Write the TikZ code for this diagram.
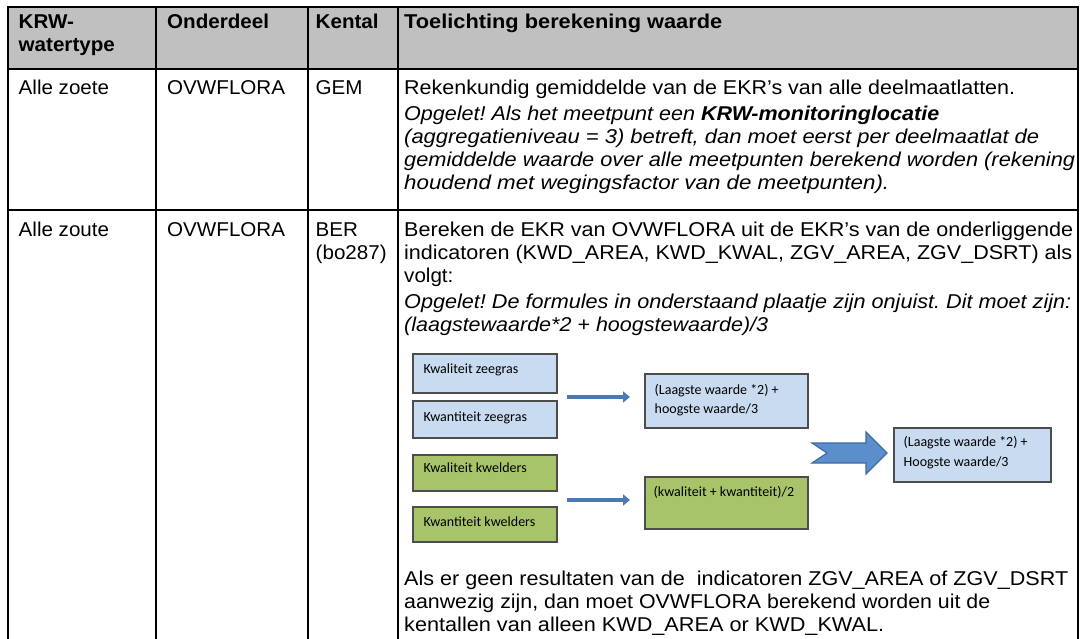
\documentclass[tikz,border=0pt]{standalone}
\usepackage{graphicx}
\usepackage{fontspec}
\setmainfont{Liberation Sans}
\newfontfamily\calfont{Carlito}
\usetikzlibrary{arrows.meta}
\definecolor{hdrgray}{HTML}{C0C0C0}
\definecolor{bluefill}{HTML}{C9DBF0}
\definecolor{greenfill}{HTML}{A8C46B}
\definecolor{boxline}{HTML}{4D4D4D}
\definecolor{arrblue}{HTML}{4A7AB0}
\definecolor{chevfill}{HTML}{5B8ECB}
\definecolor{chevline}{HTML}{3D6C9F}
\newcommand{\tabf}{\fontsize{20bp}{23bp}\selectfont}
\newcommand{\diagf}{\calfont\fontsize{14bp}{19bp}\selectfont}
\newcommand{\fitw}[2]{\resizebox{#1bp}{\height}{#2}}
\newcommand{\widen}[1]{\scalebox{1.03}[1]{#1}}
\frenchspacing
\begin{document}
\begin{tikzpicture}[x=1bp,y=-1bp,
  tl/.style={anchor=base west,inner sep=0pt,font=\tabf},
  hd/.style={tl,font=\tabf\bfseries},
  it/.style={tl,font=\tabf\itshape},
  outerline/.style={line width=2.2bp,black},
  innerline/.style={line width=1.8bp,black},
  bbox/.style={draw=boxline,line width=1.3bp,fill=bluefill,inner sep=0pt},
  gbox/.style={draw=boxline,line width=1.3bp,fill=greenfill,inner sep=0pt},
  dt/.style={anchor=base west,inner sep=0pt,font=\diagf},
  thinarr/.style={draw=arrblue,line width=4.5bp,-{Triangle[length=7bp,width=11bp]}}]
\useasboundingbox (0,0) rectangle (1084,639);
\fill[white] (0,0) rectangle (1084,639);
% table
\fill[hdrgray] (8,7) rectangle (1078,69);
\draw[innerline] (8,69) -- (1078,69);
\draw[innerline] (8,210) -- (1078,210);
\draw[innerline] (156,7) -- (156,639);
\draw[innerline] (308,7) -- (308,639);
\draw[innerline] (398,7) -- (398,639);
\draw[outerline] (8,639) -- (8,7) -- (1078,7) -- (1078,639);
% header
\node[hd] (h1a) at (18.5,29) {\widen{KRW-}};
\node[hd] (h1b) at (18.5,52) {\widen{watertype}};
\node[hd] (h2) at (167,29) {\widen{Onderdeel}};
\node[hd] (h3) at (315.5,29) {\widen{Kental}};
\node[hd] (h4) at (404,29) {\fitw{318}{Toelichting berekening waarde}};
% row 1
\node[tl] (r1c1) at (18.5,95) {\widen{Alle zoete}};
\node[tl] (r1c2) at (167,95) {\widen{OVWFLORA}};
\node[tl] (r1c3) at (315.5,95) {\widen{GEM}};
\node[tl] (r1l1) at (404,95) {\fitw{611}{Rekenkundig gemiddelde van de EKR’s van alle deelmaatlatten.}};
\node[it] (r1l2) at (404,121) {\fitw{535}{Opgelet! Als het meetpunt een \textbf{KRW-monitoringlocatie}}};
\node[it] (r1l3) at (404,144) {\fitw{635}{(aggregatieniveau = 3) betreft, dan moet eerst per deelmaatlat de}};
\node[it] (r1l4) at (404,167) {\fitw{671}{gemiddelde waarde over alle meetpunten berekend worden (rekening}};
\node[it] (r1l5) at (404,190) {\fitw{485}{houdend met wegingsfactor van de meetpunten).}};
% row 2
\node[tl] (r2c1) at (18.5,237) {\widen{Alle zoute}};
\node[tl] (r2c2) at (167,237) {\widen{OVWFLORA}};
\node[tl] (r2c3a) at (315.5,237) {\widen{BER}};
\node[tl] (r2c3b) at (315.5,260) {\widen{(bo287)}};
\node[tl] (r2l1) at (404,237) {\fitw{669}{Bereken de EKR van OVWFLORA uit de EKR’s van de onderliggende}};
\node[tl] (r2l2) at (404,260) {\fitw{668}{indicatoren (KWD\_AREA, KWD\_KWAL, ZGV\_AREA, ZGV\_DSRT) als}};
\node[tl] (r2l3) at (404,283) {\widen{volgt:}};
\node[it] (r2l4) at (404,309) {\fitw{667}{Opgelet! De formules in onderstaand plaatje zijn onjuist. Dit moet zijn:}};
\node[it] (r2l5) at (404,332) {\fitw{364}{(laagstewaarde*2 + hoogstewaarde)/3}};
\node[tl] (r2l6) at (404,585) {\fitw{664}{Als er geen resultaten van de \ indicatoren ZGV\_AREA of ZGV\_DSRT}};
\node[tl] (r2l7) at (404,608) {\fitw{586}{aanwezig zijn, dan moet OVWFLORA berekend worden uit de}};
\node[tl] (r2l8) at (404,631) {\fitw{480}{kentallen van alleen KWD\_AREA or KWD\_KWAL.}};
% embedded diagram
\node[bbox,minimum width=144bp,minimum height=39bp] (kz) at (485,373.5) {};
\node[bbox,minimum width=144bp,minimum height=37bp] (kwz) at (485,419.5) {};
\node[gbox,minimum width=144bp,minimum height=36bp] (kk) at (485,473) {};
\node[gbox,minimum width=144bp,minimum height=35bp] (kwk) at (485,524.5) {};
\node[bbox,minimum width=163bp,minimum height=54bp] (lw) at (726.5,401) {};
\node[gbox,minimum width=163bp,minimum height=52bp] (gm) at (726.5,503) {};
\node[bbox,minimum width=157bp,minimum height=54bp] (fin) at (972.5,455) {};
\node[dt] (kzt) at (423.5,373.5) {Kwaliteit zeegras};
\node[dt] (kwzt) at (423.5,421) {Kwantiteit zeegras};
\node[dt] (kkt) at (423.5,472.7) {Kwaliteit kwelders};
\node[dt] (kwkt) at (423.5,526) {Kwantiteit kwelders};
\node[dt] (lwt1) at (654.5,394.3) {(Laagste waarde *2) +};
\node[dt] (lwt2) at (654.5,413.5) {hoogste waarde/3};
\node[dt] (gmt) at (653.5,496.7) {(kwaliteit + kwantiteit)/2};
\node[dt] (fint1) at (903.5,446.3) {(Laagste waarde *2) +};
\node[dt] (fint2) at (903.5,466.5) {Hoogste waarde/3};
\coordinate (a1s) at (567,397);
\coordinate (a1e) at (630,397);
\coordinate (a2s) at (567,500);
\coordinate (a2e) at (630,500);
\draw[thinarr] (a1s) -- (a1e);
\draw[thinarr] (a2s) -- (a2e);
\filldraw[fill=chevfill,draw=chevline,line width=1.2bp,line join=miter]
  (812,443) -- (866,443) -- (866,432) -- (887,453) -- (866,474) -- (866,463)
  -- (812,463) -- (827,453) -- cycle;
\end{tikzpicture}
\end{document}
